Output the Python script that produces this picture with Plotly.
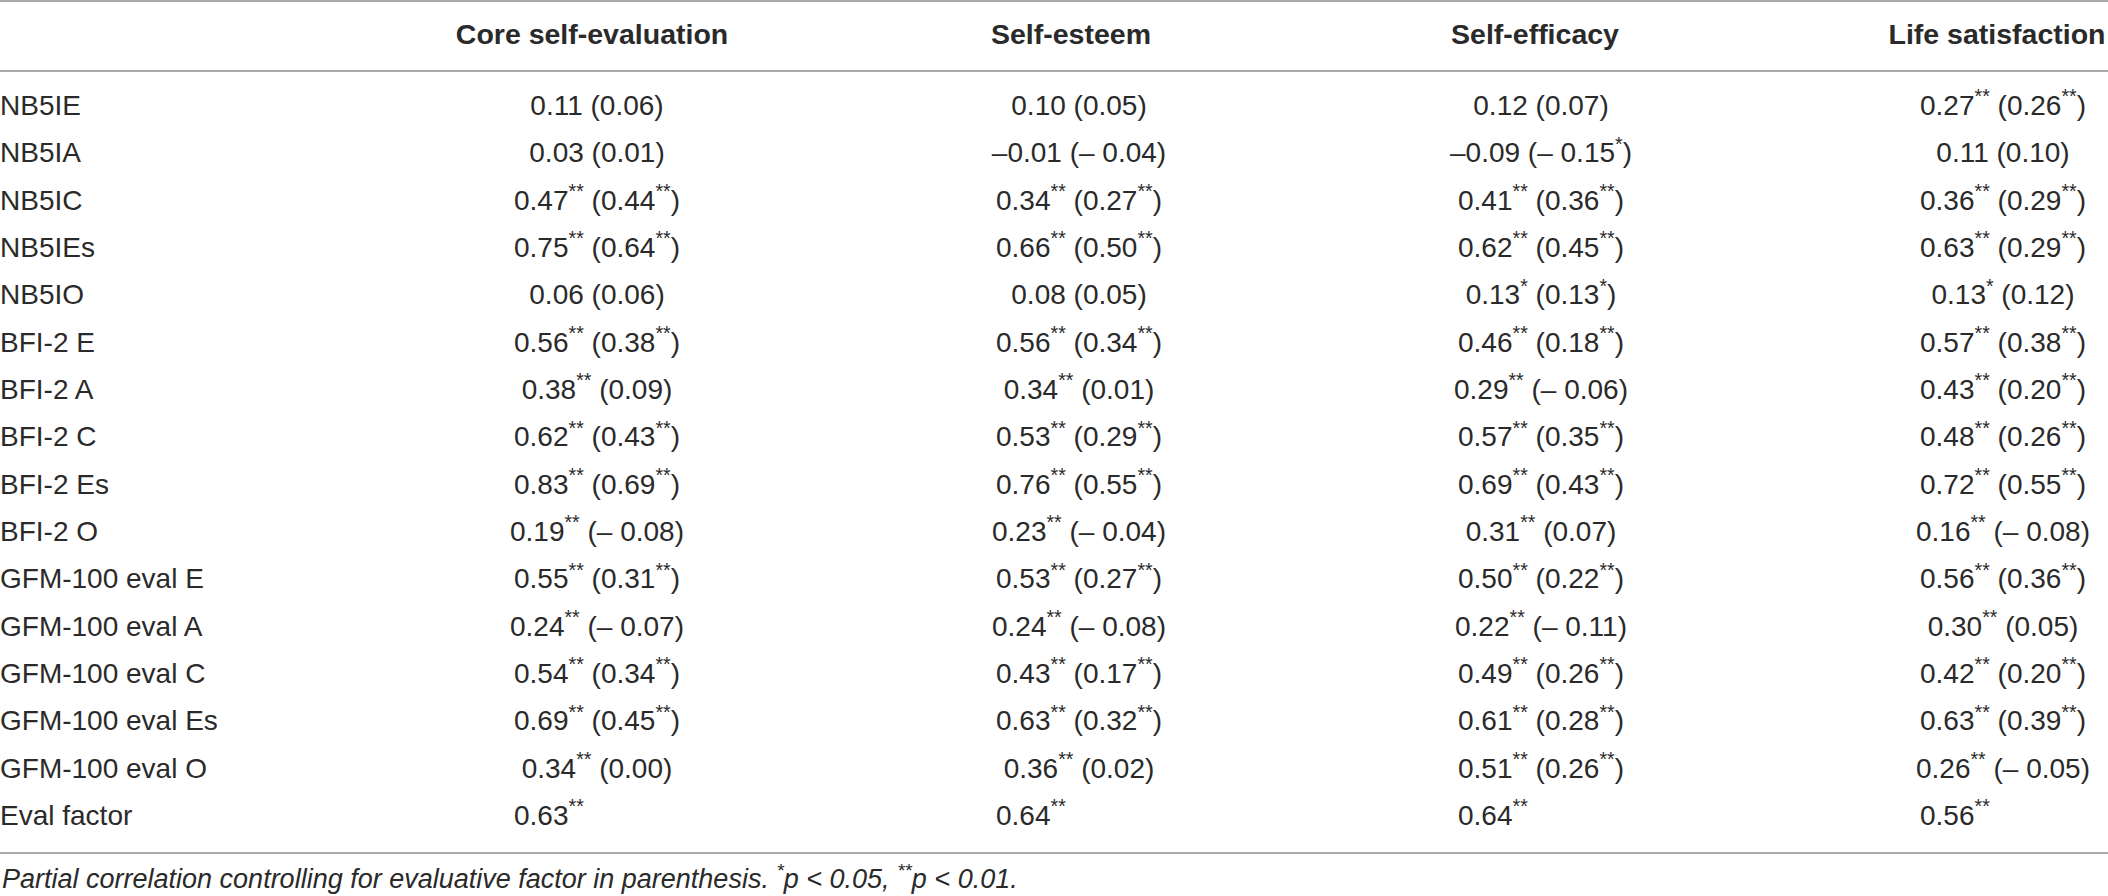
import re

import plotly.graph_objects as go

W, H = 2108, 896

rows = ["NB5IE", "NB5IA", "NB5IC", "NB5IEs", "NB5IO",
        "BFI-2 E", "BFI-2 A", "BFI-2 C", "BFI-2 Es", "BFI-2 O",
        "GFM-100 eval E", "GFM-100 eval A", "GFM-100 eval C",
        "GFM-100 eval Es", "GFM-100 eval O", "Eval factor"]

headers = ["Core self-evaluation", "Self-esteem", "Self-efficacy", "Life satisfaction"]

core = ["0.11 (0.06)", "0.03 (0.01)", "0.47** (0.44**)", "0.75** (0.64**)",
        "0.06 (0.06)", "0.56** (0.38**)", "0.38** (0.09)", "0.62** (0.43**)",
        "0.83** (0.69**)", "0.19** (– 0.08)", "0.55** (0.31**)", "0.24** (– 0.07)",
        "0.54** (0.34**)", "0.69** (0.45**)", "0.34** (0.00)", "0.63**"]
esteem = ["0.10 (0.05)", "–0.01 (– 0.04)", "0.34** (0.27**)", "0.66** (0.50**)",
          "0.08 (0.05)", "0.56** (0.34**)", "0.34** (0.01)", "0.53** (0.29**)",
          "0.76** (0.55**)", "0.23** (– 0.04)", "0.53** (0.27**)", "0.24** (– 0.08)",
          "0.43** (0.17**)", "0.63** (0.32**)", "0.36** (0.02)", "0.64**"]
efficacy = ["0.12 (0.07)", "–0.09 (– 0.15*)", "0.41** (0.36**)", "0.62** (0.45**)",
            "0.13* (0.13*)", "0.46** (0.18**)", "0.29** (– 0.06)", "0.57** (0.35**)",
            "0.69** (0.43**)", "0.31** (0.07)", "0.50** (0.22**)", "0.22** (– 0.11)",
            "0.49** (0.26**)", "0.61** (0.28**)", "0.51** (0.26**)", "0.64**"]
life = ["0.27** (0.26**)", "0.11 (0.10)", "0.36** (0.29**)", "0.63** (0.29**)",
        "0.13* (0.12)", "0.57** (0.38**)", "0.43** (0.20**)", "0.48** (0.26**)",
        "0.72** (0.55**)", "0.16** (– 0.08)", "0.56** (0.36**)", "0.30** (0.05)",
        "0.42** (0.20**)", "0.63** (0.39**)", "0.26** (– 0.05)", "0.56**"]

footnote = ("Partial correlation controlling for evaluative factor in parenthesis. "
            "*p < 0.05, **p < 0.01.")

columns = [core, esteem, efficacy, life]

# layout in pixels
COL_X = [597, 1079, 1541, 2003]
HEAD_X = [592, 1071, 1535, 1997]
HEAD_Y = 37
ROW_Y0 = 108
ROW_PITCH = 47.33
RULES = [1, 71, 853]
FOOT_Y = 877

FONT = "Liberation Sans, Arial, sans-serif"
TEXT_COLOR = "#2a2a2a"
BODY_SIZE = 28


def sup(s):
    s = s.replace("<", "&lt;")
    return re.sub(r"(\*+)", r"<sup>\1</sup>", s)


row_y = [ROW_Y0 + i * ROW_PITCH for i in range(len(rows))]
body_font = dict(family=FONT, size=BODY_SIZE, color=TEXT_COLOR)

fig = go.Figure()

fig.add_trace(go.Scatter(
    x=[0] * len(rows), y=row_y, mode="text", text=rows,
    textposition="middle right", textfont=body_font, hoverinfo="skip",
))

for cx, vals in zip(COL_X, columns):
    fig.add_trace(go.Scatter(
        x=[cx] * (len(vals) - 1), y=row_y[:-1], mode="text",
        text=[sup(v) for v in vals[:-1]],
        textposition="middle center", textfont=body_font, hoverinfo="skip",
    ))
    # last row (eval factor) sits left aligned in the column
    fig.add_trace(go.Scatter(
        x=[cx - 83], y=row_y[-1:], mode="text", text=[sup(vals[-1])],
        textposition="middle right", textfont=body_font, hoverinfo="skip",
    ))

fig.add_trace(go.Scatter(
    x=HEAD_X, y=[HEAD_Y] * len(headers), mode="text",
    text=["<b>%s</b>" % h for h in headers],
    textposition="middle center",
    textfont=dict(family=FONT, size=28.5, color=TEXT_COLOR), hoverinfo="skip",
))

for ry in RULES:
    fig.add_shape(type="line", xref="x", yref="y", x0=0, x1=W, y0=ry, y1=ry,
                  line=dict(color="#aaaaaa", width=2))

fig.add_annotation(
    x=0, y=FOOT_Y, xref="x", yref="y", xanchor="left", yanchor="middle",
    text=sup(footnote).replace("p &lt;", "<i>p</i> &lt;"), showarrow=False,
    font=dict(family=FONT, size=BODY_SIZE - 1, color=TEXT_COLOR, style="italic"),
)

fig.update_layout(
    width=W, height=H,
    margin=dict(l=0, r=0, t=0, b=0),
    paper_bgcolor="white", plot_bgcolor="white",
    showlegend=False,
    xaxis=dict(range=[0, W], visible=False, fixedrange=True),
    yaxis=dict(range=[H, 0], visible=False, fixedrange=True),
)

# page body has a default margin; drop it so the figure fills the window
fig.write_html("out.html", config={"displayModeBar": False},
               post_script="document.body.style.margin='0px';")
